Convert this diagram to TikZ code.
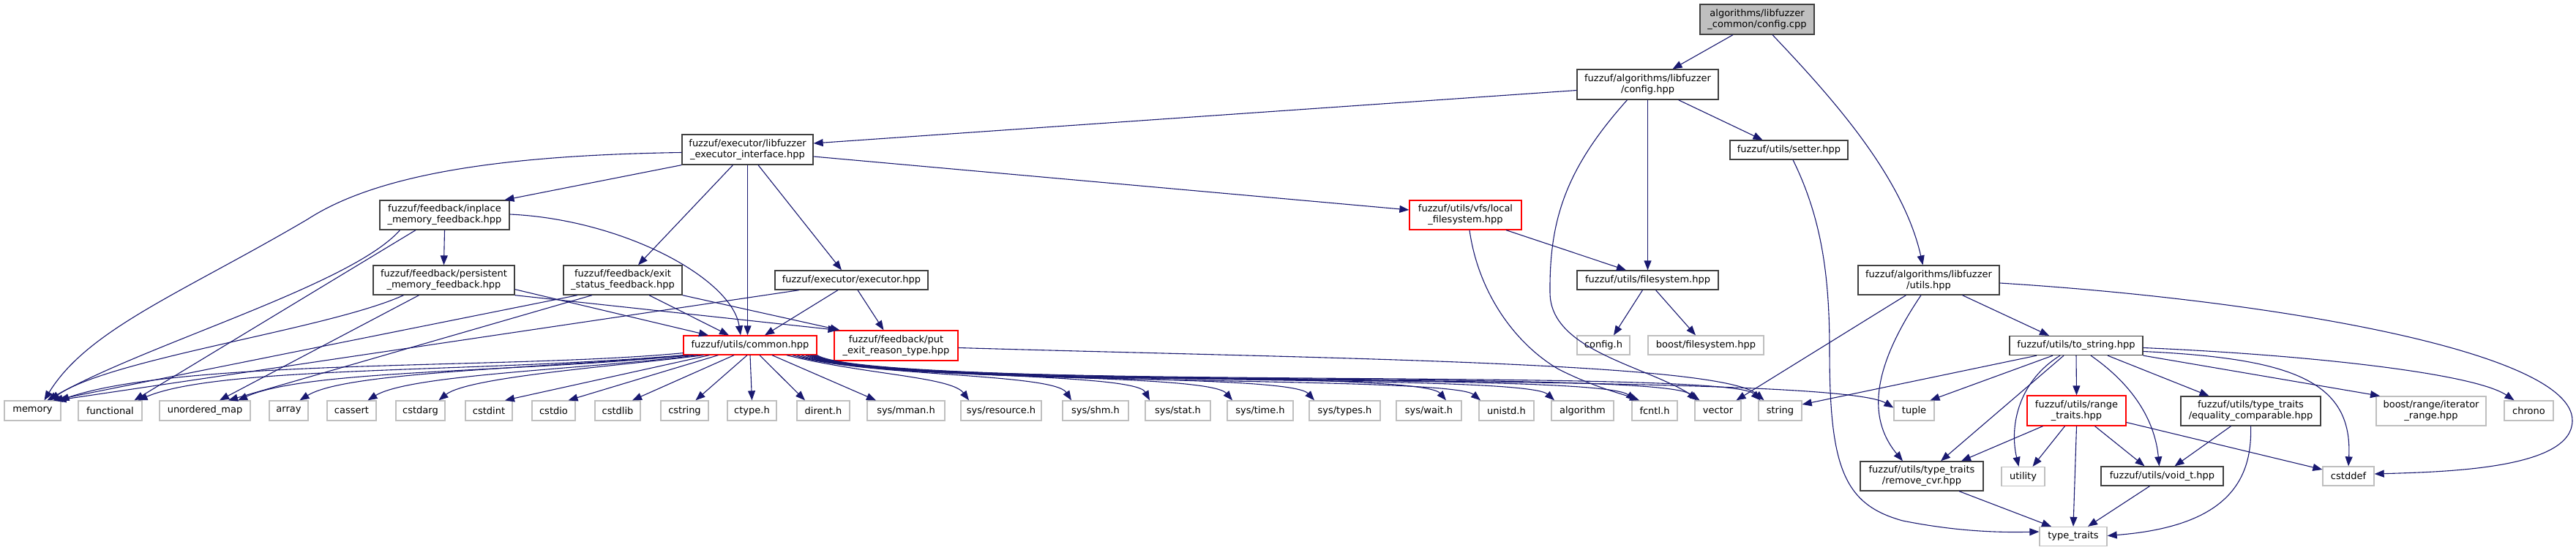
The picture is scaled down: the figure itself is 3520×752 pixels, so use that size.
\documentclass[tikz,border=0pt]{standalone}
\usepackage{fontspec}
\newfontfamily\dxfam{DejaVu Sans}
\usetikzlibrary{arrows.meta}
\definecolor{edgecol}{HTML}{191970}
\definecolor{nodeborder}{HTML}{404040}
\definecolor{sysborder}{HTML}{BFBFBF}
\definecolor{rootfill}{HTML}{BFBFBF}
\tikzset{
  nbox/.style={draw=nodeborder, line width=1.3pt, fill=white, align=center, inner sep=0pt,
    font=\dxfam\fontsize{13pt}{15pt}\selectfont},
  sysbox/.style={nbox, draw=sysborder, minimum height=27pt},
  redbox/.style={nbox, draw=red},
  rootbox/.style={nbox, fill=rootfill},
  edge/.style={draw=edgecol, line width=1.1pt, -{Triangle[length=13pt,width=10pt]}}
}
\begin{document}
\begin{tikzpicture}[x=1pt,y=-1pt]
\useasboundingbox (0,0) rectangle (3520,752);
% ---- nodes
\node[rootbox, minimum width=156pt, minimum height=41pt] (root) at (2401,26.5) {algorithms/libfuzzer\\\_common/config.cpp};
\node[nbox, minimum width=193pt, minimum height=41pt] (cfg) at (2251.5,115.5) {fuzzuf/algorithms/libfuzzer\\/config.hpp};
\node[nbox, minimum width=179pt, minimum height=41pt] (iface) at (1021.5,204.5) {fuzzuf/executor/libfuzzer\\\_executor\_interface.hpp};
\node[nbox, minimum width=161pt, minimum height=26pt] (setter) at (2444.5,205) {fuzzuf/utils/setter.hpp};
\node[nbox, minimum width=177pt, minimum height=40pt] (inplace) at (607.5,294) {fuzzuf/feedback/inplace\\\_memory\_feedback.hpp};
\node[redbox, minimum width=153pt, minimum height=40pt] (localfs) at (2002.5,294) {fuzzuf/utils/vfs/local\\\_filesystem.hpp};
\node[nbox, minimum width=193pt, minimum height=40pt] (persist) at (606.5,383) {fuzzuf/feedback/persistent\\\_memory\_feedback.hpp};
\node[nbox, minimum width=162pt, minimum height=40pt] (exitst) at (851,383) {fuzzuf/feedback/exit\\\_status\_feedback.hpp};
\node[nbox, minimum width=209pt, minimum height=26pt] (executor) at (1163.5,383) {fuzzuf/executor/executor.hpp};
\node[nbox, minimum width=193pt, minimum height=26pt] (fs) at (2251.5,383) {fuzzuf/utils/filesystem.hpp};
\node[nbox, minimum width=193pt, minimum height=40pt] (utils) at (2635.5,383) {fuzzuf/algorithms/libfuzzer\\/utils.hpp};
\node[redbox, minimum width=182pt, minimum height=26pt] (common) at (1025,472) {fuzzuf/utils/common.hpp};
\node[redbox, minimum width=169pt, minimum height=41pt] (putexit) at (1224.5,472.5) {fuzzuf/feedback/put\\\_exit\_reason\_type.hpp};
\node[sysbox, minimum width=72pt, minimum height=26pt] (configh) at (2191,472) {config.h};
\node[sysbox, minimum width=158pt, minimum height=26pt] (boostfs) at (2331,472) {boost/filesystem.hpp};
\node[nbox, minimum width=182pt, minimum height=26pt] (tostring) at (2837,472.5) {fuzzuf/utils/to\_string.hpp};
% bottom row
\node[sysbox, minimum width=77pt] (memory) at (44.5,561.5) {memory};
\node[sysbox, minimum width=87pt] (functional) at (150.5,561.5) {functional};
\node[sysbox, minimum width=124pt] (umap) at (280,561.5) {unordered\_map};
\node[sysbox, minimum width=53pt] (array) at (394.5,561.5) {array};
\node[sysbox, minimum width=67pt] (cassert) at (480.5,561.5) {cassert};
\node[sysbox, minimum width=67pt] (cstdarg) at (574.5,561.5) {cstdarg};
\node[sysbox, minimum width=64pt] (cstdint) at (668,561.5) {cstdint};
\node[sysbox, minimum width=59pt] (cstdio) at (756.5,561.5) {cstdio};
\node[sysbox, minimum width=62pt] (cstdlib) at (844,561.5) {cstdlib};
\node[sysbox, minimum width=65pt] (cstring) at (935.5,561.5) {cstring};
\node[sysbox, minimum width=67pt] (ctype) at (1027.5,561.5) {ctype.h};
\node[sysbox, minimum width=72pt] (dirent) at (1125,561.5) {dirent.h};
\node[sysbox, minimum width=106pt] (mman) at (1238,561.5) {sys/mman.h};
\node[sysbox, minimum width=110pt] (resource) at (1368,561.5) {sys/resource.h};
\node[sysbox, minimum width=90pt] (shm) at (1497,561.5) {sys/shm.h};
\node[sysbox, minimum width=89pt] (sstat) at (1609.5,561.5) {sys/stat.h};
\node[sysbox, minimum width=90pt] (stime) at (1722,561.5) {sys/time.h};
\node[sysbox, minimum width=97pt] (stypes) at (1837.5,561.5) {sys/types.h};
\node[sysbox, minimum width=89pt] (swait) at (1952.5,561.5) {sys/wait.h};
\node[sysbox, minimum width=75pt] (unistd) at (2058.5,561.5) {unistd.h};
\node[sysbox, minimum width=85pt] (algorithm) at (2162.5,561.5) {algorithm};
\node[sysbox, minimum width=62pt] (fcntl) at (2261,561.5) {fcntl.h};
\node[sysbox, minimum width=63pt] (vector) at (2347.5,561.5) {vector};
\node[sysbox, minimum width=59pt] (sstring) at (2432.5,561.5) {string};
\node[sysbox, minimum width=55pt] (tuple) at (2615.5,561.5) {tuple};
% right lower part
\node[redbox, minimum width=135pt, minimum height=41pt] (range) at (2837.5,561.5) {fuzzuf/utils/range\\\_traits.hpp};
\node[nbox, minimum width=191pt, minimum height=40pt] (eqcomp) at (3075.5,562) {fuzzuf/utils/type\_traits\\/equality\_comparable.hpp};
\node[sysbox, minimum width=150pt, minimum height=40pt] (boostrange) at (3322,562) {boost/range/iterator\\\_range.hpp};
\node[sysbox, minimum width=67pt] (chrono) at (3455.5,561.5) {chrono};
\node[nbox, minimum width=168pt, minimum height=40pt] (rcvr) at (2626,651) {fuzzuf/utils/type\_traits\\/remove\_cvr.hpp};
\node[sysbox, minimum width=59pt, minimum height=26pt] (utility) at (2764.5,651.5) {utility};
\node[nbox, minimum width=167pt, minimum height=26pt] (voidt) at (2954.5,651) {fuzzuf/utils/void\_t.hpp};
\node[sysbox, minimum width=70pt, minimum height=26pt] (cstddef) at (3209,651) {cstddef};
\node[sysbox, minimum width=92pt, minimum height=26pt] (ttraits) at (2833,733.5) {type\_traits};
% ---- edges
\draw[edge] ([xshift=-33pt]root.south) -- ([xshift=34pt]cfg.north);
\draw[edge] ([xshift=21pt]root.south) .. controls (2500,130) and (2600,240) .. ([xshift=-8pt]utils.north);
\draw[edge] ([yshift=-8pt]cfg.west) -- ([yshift=8.5pt]iface.east);
\draw[edge] ([xshift=-28pt]cfg.south) .. controls (2140,230) and (2117,300) .. (2118,400) .. controls (2118,480) and (2250,500) .. ([xshift=-25pt]vector.north);
\draw[edge] (cfg.south) -- (fs.north);
\draw[edge] ([xshift=42pt]cfg.south) -- ([xshift=-36pt]setter.north);
% iface
\draw[edge] ([yshift=-4pt]iface.west) .. controls (700,212) and (520,235) .. (420,300) .. controls (250,400) and (120,450) .. ([xshift=16pt]memory.north);
\draw[edge] (iface.south west) -- ([xshift=82pt]inplace.north);
\draw[edge] ([xshift=-20pt]iface.south) -- ([xshift=21pt]exitst.north);
\draw[edge] (iface.south) -- ([xshift=-3.5pt]common.north);
\draw[edge] ([xshift=14.5pt]iface.south) -- ([xshift=-13.5pt]executor.north);
\draw[edge] ([yshift=-9.5pt]iface.east) -- ([yshift=7pt]localfs.west);
% setter
\draw[edge] ([xshift=5.5pt]setter.south) .. controls (2490,300) and (2500,380) .. (2500,480) .. controls (2500,640) and (2520,690) .. (2600,712) .. controls (2680,728) and (2740,728) .. ([yshift=6.5pt]ttraits.west);
% localfs
\draw[edge] ([xshift=55.5pt]localfs.south) -- ([xshift=-29.5pt]fs.north);
\draw[edge] ([xshift=5.5pt]localfs.south) .. controls (2020,400) and (2070,470) .. (2130,505) .. controls (2180,530) and (2215,538) .. ([xshift=-21pt]fcntl.north);
% inplace
\draw[edge] (inplace.south) -- (persist.north);
\draw[edge] ([yshift=1pt]inplace.east) .. controls (850,300) and (1000,380) .. ([xshift=-13pt]common.north);
\draw[edge] ([xshift=-61pt]inplace.south) .. controls (480,390) and (200,470) .. ([xshift=20pt]memory.north);
\draw[edge] ([xshift=-39.5pt]inplace.south) -- ([xshift=33pt]functional.north);
% persistent
\draw[edge] ([xshift=-55pt]persist.south) .. controls (450,450) and (150,490) .. ([xshift=24pt]memory.north);
\draw[edge] ([xshift=-34pt]persist.south) -- ([xshift=20pt]umap.north);
\draw[edge] ([yshift=8pt]persist.south east) -- ([xshift=-57pt]common.north);
\draw[edge] (persist.south east) -- ([xshift=-80pt]putexit.north);
% exit status
\draw[edge] ([xshift=-62pt]exitst.south) -- ([xshift=28pt]memory.north);
\draw[edge] ([xshift=-42pt]exitst.south) -- ([xshift=32pt]umap.north);
\draw[edge] ([xshift=36pt]exitst.south) -- ([xshift=-29pt]common.north);
\draw[edge] (exitst.south east) -- ([xshift=-77pt]putexit.north);
% executor
\draw[edge] ([xshift=-71.5pt]executor.south) -- ([xshift=33pt]memory.north);
\draw[edge] ([xshift=-18.5pt]executor.south) -- ([xshift=20pt]common.north);
\draw[edge] ([xshift=8.5pt]executor.south) -- ([xshift=-17pt]putexit.north);
% filesystem
\draw[edge] ([xshift=-7pt]fs.south) -- ([xshift=14pt]configh.north);
\draw[edge] ([xshift=11pt]fs.south) -- ([xshift=-14pt]boostfs.north);
% libfuzzer utils
\draw[edge] ([xshift=46pt]utils.south) -- ([xshift=-37pt]tostring.north);
\draw[edge] ([xshift=-31pt]utils.south) -- ([xshift=25pt]vector.north);
\draw[edge] ([xshift=-10.5pt]utils.south) .. controls (2560,500) and (2550,570) .. ([xshift=-26pt]rcvr.north);
\draw[edge] ([yshift=-4pt]utils.east) .. controls (3100,410) and (3515,480) .. (3515,575) .. controls (3515,640) and (3350,645) .. ([yshift=3pt]cstddef.east);
% common -> left
\draw[edge] ([yshift=3pt]common.south west) .. controls (700,505) and (250,490) .. ([xshift=37pt]memory.north);
\draw[edge] (common.south west) .. controls (650,510) and (300,500) .. ([xshift=38pt]functional.north);
\draw[edge] ([xshift=8pt]common.south west) .. controls (700,510) and (420,505) .. ([xshift=45pt]umap.north);
\draw[edge] ([xshift=14pt]common.south west) .. controls (700,505) and (470,510) .. ([xshift=15pt]array.north);
\draw[edge] ([xshift=20pt]common.south west) .. controls (800,505) and (560,512) .. ([xshift=22pt]cassert.north);
\draw[edge] ([xshift=28pt]common.south west) .. controls (850,500) and (640,515) .. ([xshift=25pt]cstdarg.north);
\draw[edge] ([xshift=36pt]common.south west) -- ([xshift=22pt]cstdint.north);
\draw[edge] ([xshift=48pt]common.south west) -- ([xshift=20pt]cstdio.north);
\draw[edge] ([xshift=-22pt]common.south) -- ([xshift=20pt]cstdlib.north);
\draw[edge] ([xshift=-4pt]common.south) -- ([xshift=15pt]cstring.north);
\draw[edge] (common.south) -- (ctype.north);
% common -> right
\draw[edge] ([xshift=13pt]common.south) -- ([xshift=-25pt]dirent.north);
\draw[edge] ([xshift=30pt]common.south) -- ([xshift=-41pt]mman.north);
\draw[edge] ([xshift=50pt]common.south) .. controls (1180,512) and (1300,515) .. ([xshift=-44pt]resource.north);
\draw[edge] ([xshift=58pt]common.south) .. controls (1180,515) and (1440,510) .. ([xshift=-33pt]shm.north);
\draw[edge] ([xshift=64pt]common.south) .. controls (1180,518) and (1550,508) .. ([xshift=-38.5pt]sstat.north);
\draw[edge] ([xshift=70pt]common.south) .. controls (1180,522) and (1650,508) .. ([xshift=-38pt]stime.north);
\draw[edge] ([xshift=-16pt]common.south east) .. controls (1180,526) and (1760,508) .. ([xshift=-41.5pt]stypes.north);
\draw[edge] ([xshift=-13pt]common.south east) .. controls (1180,528) and (1940,505) .. ([xshift=23.5pt]swait.north);
\draw[edge] ([xshift=-10pt]common.south east) .. controls (1185,530) and (1980,512) .. ([xshift=-35.5pt]unistd.north);
\draw[edge] ([xshift=-8pt]common.south east) .. controls (1185,532) and (2080,508) .. ([xshift=-38.5pt]algorithm.north);
\draw[edge] ([xshift=-6pt]common.south east) .. controls (1190,534) and (2180,506) .. ([xshift=-26pt]fcntl.north);
\draw[edge] ([xshift=-4pt]common.south east) .. controls (1190,534) and (2270,504) .. ([xshift=-29pt]vector.north);
\draw[edge] ([xshift=-2pt]common.south east) .. controls (1195,535) and (2360,502) .. ([xshift=-27pt]sstring.north);
\draw[edge] (common.south east) .. controls (1195,535) and (2500,505) .. ([yshift=4pt]tuple.west);
% put exit reason
\draw[edge] ([yshift=-3pt]putexit.east) .. controls (1800,490) and (2350,495) .. ([xshift=-22pt]sstring.north);
% to_string
\draw[edge] ([xshift=-54pt]tostring.south) -- ([yshift=8.5pt]sstring.east);
\draw[edge] ([xshift=-32pt]tostring.south) -- ([xshift=22pt]tuple.north);
\draw[edge] ([xshift=-17pt]tostring.south) -- ([xshift=26pt]rcvr.north);
\draw[edge] ([xshift=-22pt]tostring.south) .. controls (2760,520) and (2745,580) .. ([xshift=-6pt]utility.north);
\draw[edge] (tostring.south) -- (range.north);
\draw[edge] ([xshift=20pt]tostring.south) .. controls (2920,530) and (2945,580) .. ([xshift=-4pt]voidt.north);
\draw[edge] ([xshift=43pt]tostring.south) -- ([xshift=-57pt]eqcomp.north);
\draw[edge] (tostring.south east) -- ([xshift=-70pt]boostrange.north);
\draw[edge] ([yshift=-8pt]tostring.east) .. controls (3130,490) and (3215,520) .. (cstddef.north);
\draw[edge] ([yshift=-3pt]tostring.east) .. controls (3150,485) and (3380,510) .. ([xshift=-20pt]chrono.north);
% range traits
\draw[edge] ([xshift=-46pt]range.south) -- ([xshift=54pt]rcvr.north);
\draw[edge] ([xshift=-16pt]range.south) -- ([xshift=13pt]utility.north);
\draw[edge] (range.south) -- (ttraits.north);
\draw[edge] ([xshift=25pt]range.south) -- ([xshift=-24pt]voidt.north);
\draw[edge] ([yshift=-16pt]range.east) -- ([yshift=9pt]cstddef.west);
% equality comparable
\draw[edge] ([xshift=-27pt]eqcomp.south) -- ([xshift=17pt]voidt.north);
\draw[edge] (eqcomp.south) .. controls (3078,660) and (3040,720) .. ([yshift=1pt]ttraits.east);
% remove_cvr, void_t
\draw[edge] ([xshift=51pt]rcvr.south) -- ([xshift=-30pt]ttraits.north);
\draw[edge] ([xshift=-17pt]voidt.south) -- ([xshift=20pt]ttraits.north);
\end{tikzpicture}
\end{document}
